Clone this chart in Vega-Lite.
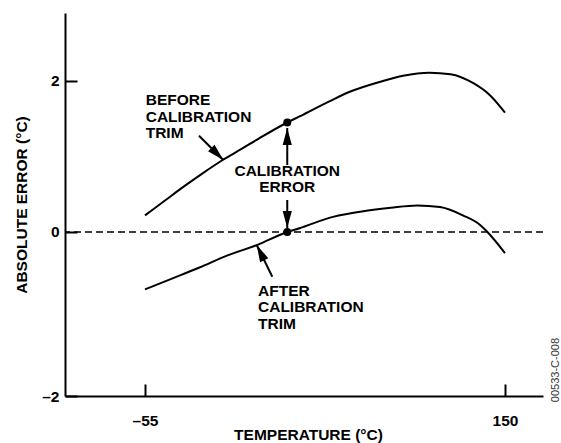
{
  "$schema": "https://vega.github.io/schema/vega-lite/v6.json",
  "width": 478,
  "height": 383,
  "autosize": {"type": "none"},
  "padding": {"left": 65, "top": 13, "right": 18, "bottom": 47},
  "background": "white",
  "config": {
    "view": {"stroke": null},
    "font": "Liberation Sans",
    "axis": {
      "domainColor": "black", "domainWidth": 2, "tickColor": "black", "tickWidth": 2,
      "labelColor": "black", "labelFont": "Liberation Sans", "labelFontSize": 15.5, "labelFontWeight": "bold",
      "titleColor": "black", "titleFont": "Liberation Sans", "titleFontSize": 15.5, "titleFontWeight": "bold",
      "grid": false
    }
  },
  "datasets": {
    "curves": [
      {"series": "before", "t": -55, "v": 0.22}, {"series": "before", "t": -44, "v": 0.41}, {"series": "before", "t": -33, "v": 0.6},
      {"series": "before", "t": -22, "v": 0.78}, {"series": "before", "t": -11, "v": 0.95}, {"series": "before", "t": 0, "v": 1.1},
      {"series": "before", "t": 10, "v": 1.24}, {"series": "before", "t": 26, "v": 1.45}, {"series": "before", "t": 33, "v": 1.53},
      {"series": "before", "t": 50, "v": 1.73}, {"series": "before", "t": 62, "v": 1.86}, {"series": "before", "t": 79, "v": 1.99},
      {"series": "before", "t": 92, "v": 2.07}, {"series": "before", "t": 107, "v": 2.11}, {"series": "before", "t": 119, "v": 2.09},
      {"series": "before", "t": 132, "v": 1.97}, {"series": "before", "t": 141, "v": 1.82}, {"series": "before", "t": 150, "v": 1.58},
      {"series": "after", "t": -55, "v": -0.76}, {"series": "after", "t": -40, "v": -0.62}, {"series": "after", "t": -24, "v": -0.47},
      {"series": "after", "t": -8, "v": -0.31}, {"series": "after", "t": 9, "v": -0.17}, {"series": "after", "t": 26, "v": 0.0},
      {"series": "after", "t": 33, "v": 0.05}, {"series": "after", "t": 52, "v": 0.2}, {"series": "after", "t": 71, "v": 0.28},
      {"series": "after", "t": 85, "v": 0.32}, {"series": "after", "t": 100, "v": 0.35}, {"series": "after", "t": 113, "v": 0.33},
      {"series": "after", "t": 126, "v": 0.22}, {"series": "after", "t": 136, "v": 0.09}, {"series": "after", "t": 140, "v": 0.0},
      {"series": "after", "t": 150, "v": -0.28}
    ],
    "zero": [{"v": 0}],
    "dots": [{"t": 26, "v": 1.45}, {"t": 26, "v": 0}],
    "arrows": [
      {"id": "before", "t": -24.25, "v": 1.275, "t2": -10.41, "v2": 0.954},
      {"id": "up", "t": 26, "v": 0.887, "t2": 26, "v2": 1.377},
      {"id": "down", "t": 26, "v": 0.424, "t2": 26, "v2": 0.053},
      {"id": "after", "t": 17.5, "v": -0.592, "t2": 8.6, "v2": -0.172}
    ],
    "notesLeft": [
      {"label": "BEFORE\nCALIBRATION\nTRIM", "t": -54.6, "v": 1.742},
      {"label": "AFTER\nCALIBRATION\nTRIM", "t": 9.35, "v": -0.781}
    ],
    "notesCenter": [
      {"label": "CALIBRATION\nERROR", "t": 26, "v": 0.808}
    ],
    "code": [{"label": "00533-C-008"}]
  },
  "layer": [
    {
      "data": {"name": "curves"},
      "mark": {"type": "line", "color": "black", "strokeWidth": 2, "interpolate": "monotone"},
      "encoding": {
        "x": {"field": "t", "type": "quantitative", "scale": {"domain": [-100.56, 171.64], "nice": false, "zero": false},
          "axis": {"values": [-55, 150], "tickSize": -12, "labelPadding": 29, "title": "TEMPERATURE (°C)",
            "labelExpr": "datum.value < 0 ? '–' + format(-datum.value, 'd') : format(datum.value, 'd')",
            "titleX": 243, "titleY": 38, "titleBaseline": "middle", "titleAnchor": "middle"}},
        "y": {"field": "v", "type": "quantitative", "scale": {"domain": [-2.172, 2.9], "nice": false, "zero": false},
          "axis": {"values": [-2.172, 0, 2], "tickSize": -12, "labelPadding": 18, "title": "ABSOLUTE ERROR (°C)",
            "labelExpr": "datum.value < -1 ? '–2' : format(datum.value, 'd')",
            "titleX": -44, "titleY": 191.5, "titleAngle": 270, "titleAlign": "center", "titleBaseline": "middle"}},
        "detail": {"field": "series"}
      }
    },
    {
      "data": {"name": "zero"},
      "mark": {"type": "rule", "color": "black", "strokeWidth": 1.3, "strokeDash": [7, 4]},
      "encoding": {"y": {"field": "v", "type": "quantitative"}}
    },
    {
      "data": {"name": "arrows"},
      "mark": {"type": "rule", "color": "black", "strokeWidth": 2},
      "encoding": {
        "x": {"field": "t", "type": "quantitative"}, "y": {"field": "v", "type": "quantitative"},
        "x2": {"field": "t2"}, "y2": {"field": "v2"}
      }
    },
    {
      "data": {"name": "arrows"},
      "transform": [{"filter": "datum.id == 'before'"}],
      "mark": {"type": "point", "shape": "M0,0L-0.27,1L0.27,1Z", "filled": true, "opacity": 1, "color": "black", "strokeWidth": 0, "size": 1156, "angle": 135},
      "encoding": {"x": {"field": "t2", "type": "quantitative"}, "y": {"field": "v2", "type": "quantitative"}}
    },
    {
      "data": {"name": "arrows"},
      "transform": [{"filter": "datum.id == 'up'"}],
      "mark": {"type": "point", "shape": "M0,0L-0.27,1L0.27,1Z", "filled": true, "opacity": 1, "color": "black", "strokeWidth": 0, "size": 1156, "angle": 0},
      "encoding": {"x": {"field": "t2", "type": "quantitative"}, "y": {"field": "v2", "type": "quantitative"}}
    },
    {
      "data": {"name": "arrows"},
      "transform": [{"filter": "datum.id == 'down'"}],
      "mark": {"type": "point", "shape": "M0,0L-0.27,1L0.27,1Z", "filled": true, "opacity": 1, "color": "black", "strokeWidth": 0, "size": 1156, "angle": 180},
      "encoding": {"x": {"field": "t2", "type": "quantitative"}, "y": {"field": "v2", "type": "quantitative"}}
    },
    {
      "data": {"name": "arrows"},
      "transform": [{"filter": "datum.id == 'after'"}],
      "mark": {"type": "point", "shape": "M0,0L-0.27,1L0.27,1Z", "filled": true, "opacity": 1, "color": "black", "strokeWidth": 0, "size": 1156, "angle": 333.8},
      "encoding": {"x": {"field": "t2", "type": "quantitative"}, "y": {"field": "v2", "type": "quantitative"}}
    },
    {
      "data": {"name": "dots"},
      "mark": {"type": "point", "shape": "circle", "filled": true, "opacity": 1, "color": "black", "strokeWidth": 0, "size": 64},
      "encoding": {"x": {"field": "t", "type": "quantitative"}, "y": {"field": "v", "type": "quantitative"}}
    },
    {
      "data": {"name": "notesLeft"},
      "mark": {"type": "text", "lineBreak": "\n", "fontSize": 15.5, "fontWeight": "bold", "lineHeight": 16.5, "align": "left", "baseline": "middle", "color": "black"},
      "encoding": {"x": {"field": "t", "type": "quantitative"}, "y": {"field": "v", "type": "quantitative"}, "text": {"field": "label"}}
    },
    {
      "data": {"name": "notesCenter"},
      "mark": {"type": "text", "lineBreak": "\n", "fontSize": 15.5, "fontWeight": "bold", "lineHeight": 16.5, "align": "center", "baseline": "middle", "color": "black"},
      "encoding": {"x": {"field": "t", "type": "quantitative"}, "y": {"field": "v", "type": "quantitative"}, "text": {"field": "label"}}
    },
    {
      "data": {"name": "code"},
      "mark": {"type": "text", "angle": 270, "align": "center", "baseline": "alphabetic", "fontSize": 11, "fontWeight": "normal", "color": "#333333"},
      "encoding": {"x": {"datum": 180.6, "type": "quantitative"}, "y": {"datum": -1.828, "type": "quantitative"}, "text": {"field": "label"}}
    }
  ]
}
